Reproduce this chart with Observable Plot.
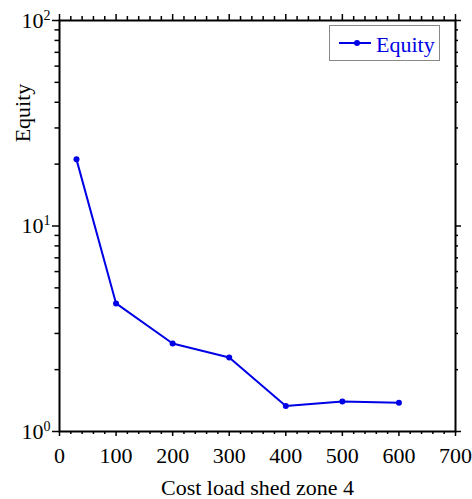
<!DOCTYPE html>
<html>
<head>
<meta charset="utf-8">
<script src="https://cdn.jsdelivr.net/npm/d3@7"></script>
<script src="https://cdn.jsdelivr.net/npm/@observablehq/plot@0.6"></script>
<style>
  html, body { margin: 0; padding: 0; background: #fff; }
  #wrap { position: relative; width: 472px; height: 499px; }
  #legend { position: absolute; left: 329px; top: 25px; width: 111px; height: 36px;
    border: 1px solid #888; background: #fff; box-sizing: border-box; }
</style>
</head>
<body>
<div id="wrap"></div>
<script>
const costs = [30, 100, 200, 300, 400, 500, 600];
const equity = [21.1, 4.2, 2.68, 2.29, 1.33, 1.40, 1.38];
const xMajor = [0, 100, 200, 300, 400, 500, 600, 700];
const xMinor = d3.range(0, 701, 20).filter(v => v % 100 !== 0);
const yMajor = [1, 10, 100];
const yMinor = [2,3,4,5,6,7,8,9,20,30,40,50,60,70,80,90];
const seriesName = "Equity";
const xLabel = "Cost load shed zone 4";
const yLabel = "Equity";

const data = costs.map((c, i) => ({cost: c, equity: equity[i]}));
const blue = "#0000e6";
const font = "Liberation Serif, Times New Roman, serif";

const W = 472, H = 499, mL = 59, mR = 17, mT = 20, mB = 68;
const fw = W - mL - mR, fh = H - mT - mB;

// outward tick marks on all four sides
const tk = {stroke: "black", strokeWidth: 1.5};
function bottomTicks(vals, len) { return Plot.tickX(vals, {x: d => d, insetTop: fh, insetBottom: -len, ...tk}); }
function topTicks(vals, len) { return Plot.tickX(vals, {x: d => d, insetTop: -len, insetBottom: fh, ...tk}); }
function leftTicks(vals, len) { return Plot.tickY(vals, {y: d => d, insetLeft: -len, insetRight: fw, ...tk}); }
function rightTicks(vals, len) { return Plot.tickY(vals, {y: d => d, insetLeft: fw, insetRight: -len, ...tk}); }

const plot = Plot.plot({
  width: W,
  height: H,
  marginLeft: mL,
  marginRight: mR,
  marginTop: mT,
  marginBottom: mB,
  style: {fontFamily: font, fontSize: "22px", color: "black", background: "white"},
  x: {domain: [0, 700]},
  y: {type: "log", domain: [1, 100]},
  marks: [
    Plot.axisX(xMajor, {tickSize: 0, tickPadding: 16, fontSize: 22, label: xLabel, labelAnchor: "center", labelOffset: 63, labelArrow: "none"}),
    Plot.axisY(yMajor, {tickSize: 0, tickPadding: 9, fontSize: 22, tickFormat: d => String(Math.round(Math.log10(d))), label: null}),
    bottomTicks(xMajor, 5),
    bottomTicks(xMinor, 3),
    topTicks(xMajor, 6),
    topTicks(xMinor, 4),
    leftTicks(yMajor, 7),
    leftTicks(yMinor, 4.5),
    rightTicks(yMajor, 6),
    rightTicks(yMinor, 3),
    Plot.frame({stroke: "black", strokeWidth: 2}),
    Plot.line(data, {x: "cost", y: "equity", stroke: blue, strokeWidth: 2}),
    Plot.dot(data, {x: "cost", y: "equity", fill: blue, r: 3})
  ]
});

// render y tick labels as 10 with superscript exponent
d3.select(plot).selectAll('g[aria-label="y-axis tick label"] text').each(function() {
  const t = d3.select(this);
  const e = t.text();
  t.text("10");
  t.append("tspan").attr("dy", "-8").attr("font-size", "14px").text(e);
});
d3.select(plot).append("text")
  .attr("transform", "translate(30,113) rotate(-90)")
  .attr("text-anchor", "middle")
  .attr("font-family", font)
  .attr("font-size", 22)
  .attr("fill", "black")
  .text(yLabel);

const wrap = document.getElementById("wrap");
wrap.appendChild(plot);

const legend = document.createElement("div");
legend.id = "legend";
legend.innerHTML = `<svg width="111" height="36" style="position:absolute;left:-1px;top:-1px">
  <line x1="10" x2="42" y1="18" y2="18" stroke="${blue}" stroke-width="2"/>
  <circle cx="28" cy="18" r="3" fill="${blue}"/>
  <text x="47" y="27" font-family="${font}" font-size="22" fill="${blue}">${seriesName}</text>
</svg>`;
wrap.appendChild(legend);
</script>
</body>
</html>
